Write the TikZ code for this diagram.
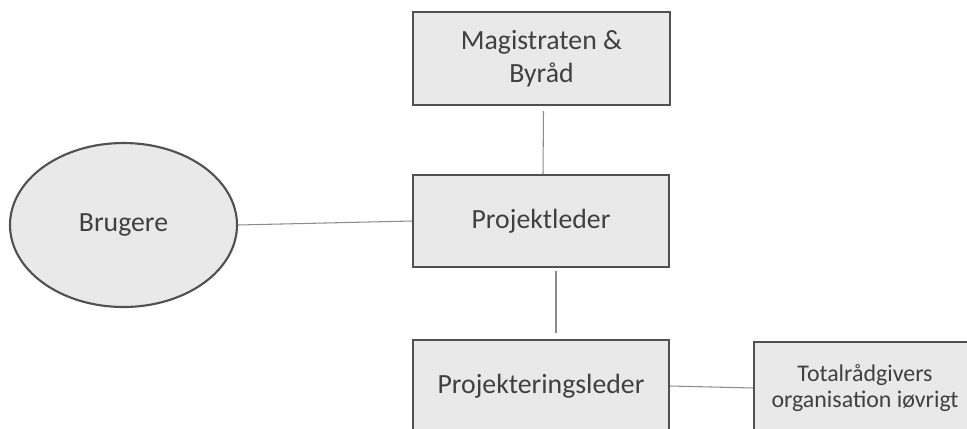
\documentclass[tikz,border=0pt]{standalone}
\usepackage{fontspec}
\setmainfont{Carlito}
\usepackage{tikz}
\usetikzlibrary{shapes.geometric}
\definecolor{boksfyld}{HTML}{E9E9E9}
\definecolor{kant}{HTML}{505050}
\definecolor{tekst}{HTML}{404040}
\definecolor{streg}{HTML}{8C8C8C}

\begin{document}
\begin{tikzpicture}[
	boks/.style={draw=kant,fill=boksfyld,line width=1.2pt,text=tekst,
		minimum width=5.12cm,minimum height=1.84cm,align=center,inner sep=0pt,
		font=\fontsize{15.8}{19}\selectfont},
	forb/.style={draw=streg,line width=0.6pt}]
	\useasboundingbox (0,0) rectangle (19.34,8.56);
	\clip (0,0) rectangle (19.34,8.56);
	\node[boks,minimum width=5.14cm,minimum height=1.86cm] (N0) at (10.83,7.39) {Magistraten \&\\Byråd};
	\node[boks] (N1) at (10.82,4.14) {Projektleder};
	\node[boks,ellipse,minimum width=4.54cm,minimum height=3.28cm] (N2) at (2.47,4.06) {Brugere};
	\node[boks] (N3) at (10.82,0.84) {Projekteringsleder};
	\node[boks,minimum width=4.44cm,font=\fontsize{13.6}{14.8}\selectfont] (N4) at (17.30,0.80) {Totalrådgivers\\organisation iøvrigt};
	\path[forb]
	     ([shift={(0.04,-0.1)}]N0.south) edge ([xshift=0.04cm]N1.north)
	     ([shift={(0.3,-0.06)}]N1.south) edge ([shift={(0.3,0.12)}]N3.north)
	     (N2.east) edge (N1.west)
	     (N3.east) edge (N4.west);
\end{tikzpicture}
\end{document}
